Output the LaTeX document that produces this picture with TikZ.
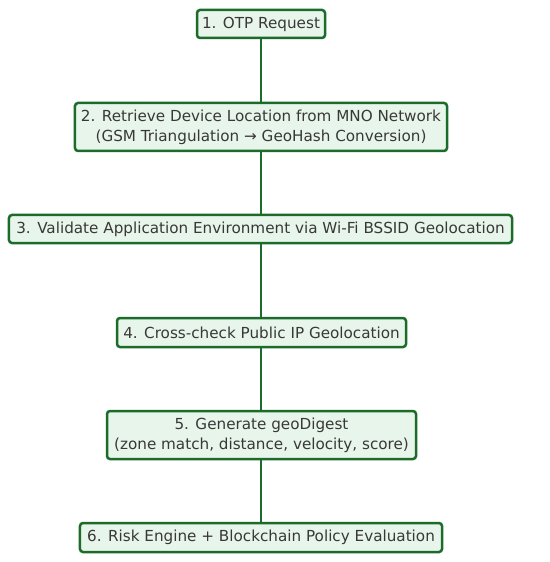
\documentclass[tikz,border=0pt]{standalone}
\usepackage{fontspec}
\setmainfont{DejaVu Sans}
\definecolor{boxedge}{HTML}{1B6B2A}
\definecolor{boxfill}{HTML}{E8F5EA}
\definecolor{txt}{HTML}{383838}
\begin{document}
\begin{tikzpicture}[x=1bp,y=1bp,
  stepbox/.style={draw=boxedge, fill=boxfill, line width=2.5bp, rounded corners=3bp,
    inner sep=0pt, align=center, text=txt, font=\fontsize{15.2bp}{20bp}\selectfont},
  link/.style={draw=boxedge, line width=2.6bp}]
\useasboundingbox (0,0) rectangle (550,-562);
\node[stepbox, minimum width=128bp, minimum height=28bp] (s1) at (261,-24) {1. OTP Request};
\node[stepbox, minimum width=372bp, minimum height=48bp] (s2) at (261,-127) {2. Retrieve Device Location from MNO Network\\(GSM Triangulation → GeoHash Conversion)};
\node[stepbox, minimum width=503bp, minimum height=28bp] (s3) at (260.5,-229) {3. Validate Application Environment via Wi-Fi BSSID Geolocation};
\node[stepbox, minimum width=289bp, minimum height=29bp] (s4) at (261.5,-332.5) {4. Cross-check Public IP Geolocation};
\node[stepbox, minimum width=309bp, minimum height=48bp] (s5) at (261.5,-435) {5. Generate geoDigest\\(zone match, distance, velocity, score)};
\node[stepbox, minimum width=362bp, minimum height=29bp] (s6) at (261,-537.5) {6. Risk Engine + Blockchain Policy Evaluation};
\draw[link] (s1.south) -- (s1.south |- s2.north);
\draw[link] (s1.south |- s2.south) -- (s1.south |- s3.north);
\draw[link] (s1.south |- s3.south) -- (s1.south |- s4.north);
\draw[link] (s1.south |- s4.south) -- (s1.south |- s5.north);
\draw[link] (s1.south |- s5.south) -- (s1.south |- s6.north);
\end{tikzpicture}
\end{document}
